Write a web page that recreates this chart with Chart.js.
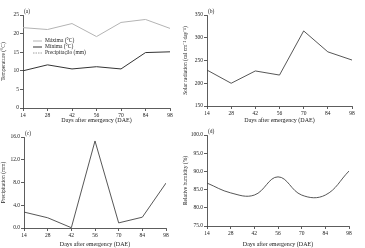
<!DOCTYPE html>
<html lang="en">
<head>
  <meta charset="UTF-8">
  <script src="https://cdn.jsdelivr.net/npm/chart.js"></script>
  <title>Weather during the crop cycle</title>
  <style>
    body { margin: 0; background: #fff; }
    .panel { position: absolute; }
  </style>
</head>
<body>
  <canvas id="chartA" class="panel" style="left:0;top:0"></canvas>
  <canvas id="chartB" class="panel" style="left:182px;top:0"></canvas>
  <canvas id="chartC" class="panel" style="left:0;top:124px"></canvas>
  <canvas id="chartD" class="panel" style="left:182px;top:124px"></canvas>
  <script>
    // days after emergency
    const days = [14, 28, 42, 56, 70, 84, 98];
    // (a) temperature
    const tempMax = [21.6, 21.1, 22.7, 19.2, 23.0, 23.8, 21.4];
    const tempMin = [10.0, 11.6, 10.5, 11.1, 10.5, 14.9, 15.1];
    // (b) solar radiation
    const solarRad = [229, 200, 227, 218, 315, 269, 251];
    // (c) precipitation
    const precip = [2.8, 1.8, 0.05, 15.3, 0.9, 1.9, 7.9];
    // (d) relative humidity
    const humidity = [86.8, 84.1, 83.5, 88.5, 83.5, 83.5, 90.1];

    const FONT = 'Liberation Serif';
    const AXIS = '#333';

    function pts(values) {
      return values.map((v, i) => ({ x: days[i], y: v }));
    }

    // draws "(a)" etc. and an optional inner legend
    const extras = {
      id: 'extras',
      afterDraw(chart, args, o) {
        const ctx = chart.ctx;
        const a = chart.chartArea;
        ctx.save();
        ctx.fillStyle = '#222';
        ctx.font = '5.5px ' + FONT;
        ctx.textBaseline = 'bottom';
        ctx.fillText(o.tag, a.left + 1, a.top - 1);
        if (o.legend) {
          let y = a.top + o.legend.y;
          chart.data.datasets.forEach(ds => {
            ctx.strokeStyle = ds.borderColor;
            ctx.lineWidth = ds.borderWidth;
            ctx.setLineDash(ds.borderDash || []);
            ctx.beginPath();
            ctx.moveTo(a.left + o.legend.x, y);
            ctx.lineTo(a.left + o.legend.x + 9, y);
            ctx.stroke();
            ctx.setLineDash([]);
            ctx.textBaseline = 'middle';
            ctx.fillText(ds.label, a.left + o.legend.x + 12, y);
            y += 6;
          });
        }
        ctx.restore();
      }
    };

    function makePanel(id, cfg) {
      const canvas = document.getElementById(id);
      canvas.width = cfg.w;
      canvas.height = cfg.h;
      new Chart(canvas, {
        type: 'line',
        data: { datasets: cfg.datasets },
        options: {
          responsive: false,
          animation: false,
          layout: { padding: { top: cfg.area.top, right: cfg.w - cfg.area.right, left: 0, bottom: 0 } },
          plugins: {
            legend: { display: false },
            tooltip: { enabled: false },
            extras: { tag: cfg.tag, legend: cfg.legend }
          },
          elements: { point: { radius: 0 } },
          scales: {
            x: {
              type: 'linear', min: 14, max: 98,
              afterFit: s => { s.height = cfg.h - cfg.area.bottom; },
              border: { color: AXIS, width: 0.8 },
              grid: { drawOnChartArea: false, tickLength: 3, color: AXIS, lineWidth: 0.8 },
              ticks: { stepSize: 14, padding: 1, maxRotation: 0, color: '#222', font: { family: FONT, size: 5.5 } },
              title: { display: true, text: 'Days after emergency (DAE)', color: '#222', padding: 0, font: { family: FONT, size: 6 } }
            },
            y: {
              min: cfg.y.min, max: cfg.y.max,
              afterFit: s => { s.width = cfg.area.left; },
              border: { color: AXIS, width: 0.8 },
              grid: { drawOnChartArea: false, tickLength: 3, color: AXIS, lineWidth: 0.8 },
              ticks: {
                stepSize: cfg.y.step, padding: 1, color: '#222', font: { family: FONT, size: 5.5 },
                callback: v => v.toFixed(cfg.y.dec)
              },
              title: { display: true, text: cfg.y.title, color: '#222', padding: 0, font: { family: FONT, size: 5.5 } }
            }
          }
        },
        plugins: [extras]
      });
    }

    makePanel('chartA', {
      w: 182, h: 124, tag: '(a)',
      area: { left: 23, right: 170, top: 15, bottom: 108 },
      y: { min: 0, max: 25, step: 5, dec: 0, title: 'Temperature (°C)' },
      legend: { x: 10, y: 26 },
      datasets: [
        { label: 'Máxima (°C)', data: pts(tempMax), borderColor: '#b4b4b4', borderWidth: 1, tension: 0 },
        { label: 'Mínima (°C)', data: pts(tempMin), borderColor: '#333', borderWidth: 1, tension: 0 },
        { label: 'Precipitação (mm)', data: [], borderColor: '#888', borderWidth: 0.8, borderDash: [1.5, 1] }
      ]
    });

    makePanel('chartB', {
      w: 183, h: 124, tag: '(b)',
      area: { left: 25, right: 170, top: 15, bottom: 106 },
      y: { min: 150, max: 350, step: 50, dec: 0, title: 'Solar radiation (cal cm⁻² day⁻¹)' },
      datasets: [
        { label: 'Solar radiation', data: pts(solarRad), borderColor: '#444', borderWidth: 0.9, tension: 0 }
      ]
    });

    makePanel('chartC', {
      w: 182, h: 124, tag: '(c)',
      area: { left: 24, right: 166, top: 13, bottom: 104 },
      y: { min: 0, max: 16, step: 4, dec: 1, title: 'Precipitation (mm)' },
      datasets: [
        { label: 'Precipitation', data: pts(precip), borderColor: '#444', borderWidth: 0.9, tension: 0 }
      ]
    });

    makePanel('chartD', {
      w: 183, h: 124, tag: '(d)',
      area: { left: 25, right: 167, top: 11, bottom: 102 },
      y: { min: 75, max: 100, step: 5, dec: 1, title: 'Relative humidity (%)' },
      datasets: [
        { label: 'Relative humidity', data: pts(humidity), borderColor: '#444', borderWidth: 0.9, tension: 0.4 }
      ]
    });
  </script>
</body>
</html>
